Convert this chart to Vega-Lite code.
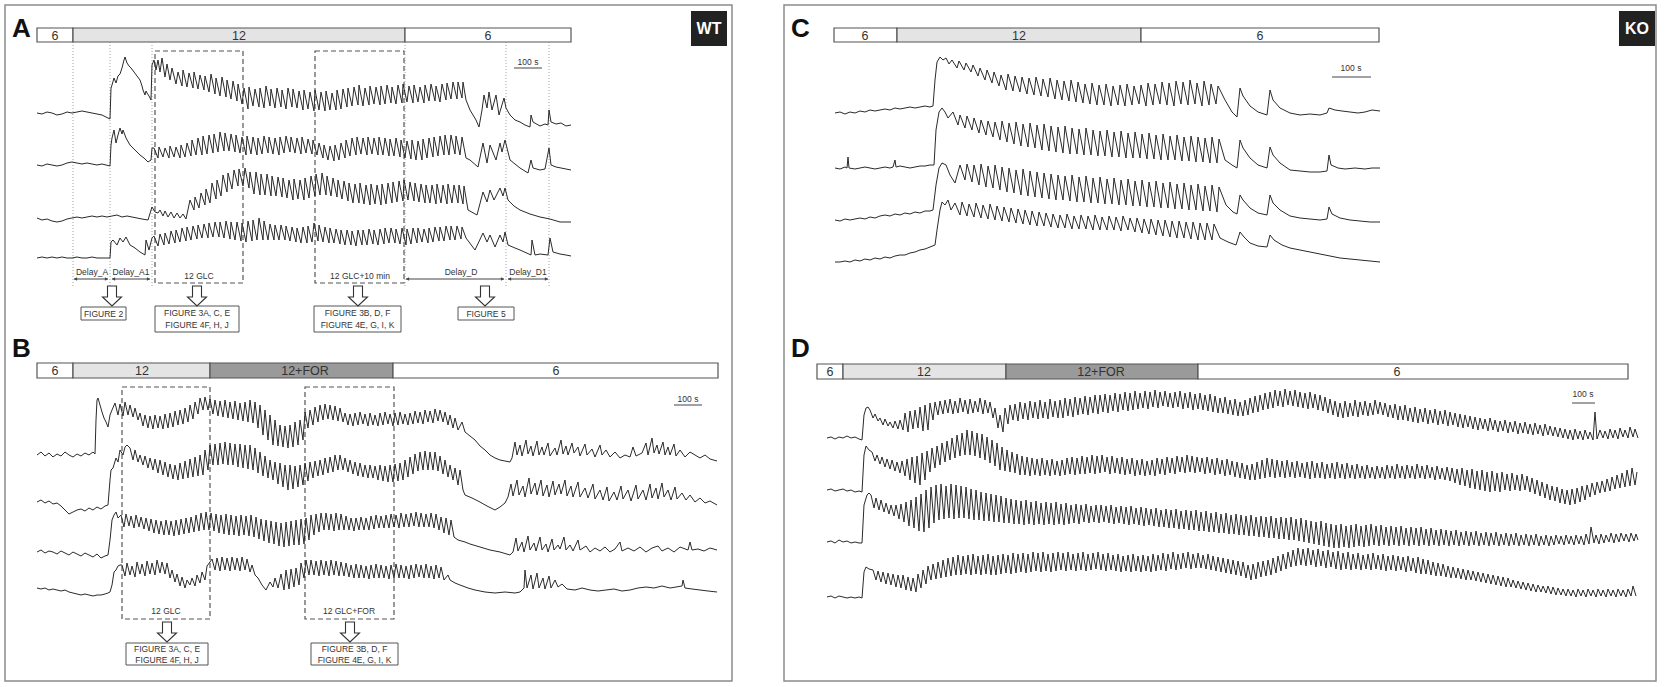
{
"$schema":"https://vega.github.io/schema/vega-lite/v6.json",
"width":1666,"height":687,
"autosize":{"type":"fit","contains":"padding"},
"padding":0,
"background":"white",
"config":{"view":{"stroke":null},"text":{"font":"Liberation Sans"}},
"encoding":{
"x":{"field":"x","type":"quantitative","scale":{"domain":[0,1666],"nice":false,"zero":false},"axis":null},
"y":{"field":"y","type":"quantitative","scale":{"domain":[0,687],"nice":false,"zero":false,"reverse":true},"axis":null}
},
"layer":[
{"data":{"values":[{"x":5,"x2":732,"y":5,"y2":681},{"x":784,"x2":1656,"y":5,"y2":681}]},
"mark":{"type":"rect","filled":false,"stroke":"#8c8c8c","strokeWidth":1.5},
"encoding":{"x2":{"field":"x2"},"y2":{"field":"y2"}}},
{"data":{"values":[
{"x":37,"x2":73,"y":28,"y2":42,"f":"#ffffff"},{"x":73,"x2":405,"y":28,"y2":42,"f":"#e4e4e4"},{"x":405,"x2":571,"y":28,"y2":42,"f":"#ffffff"},
{"x":37,"x2":73,"y":363,"y2":378,"f":"#ffffff"},{"x":73,"x2":210,"y":363,"y2":378,"f":"#e4e4e4"},{"x":210,"x2":393,"y":363,"y2":378,"f":"#9a9a9a"},{"x":393,"x2":718,"y":363,"y2":378,"f":"#ffffff"},
{"x":834,"x2":897,"y":28,"y2":42,"f":"#ffffff"},{"x":897,"x2":1141,"y":28,"y2":42,"f":"#e4e4e4"},{"x":1141,"x2":1379,"y":28,"y2":42,"f":"#ffffff"},
{"x":817,"x2":843,"y":364,"y2":379,"f":"#ffffff"},{"x":843,"x2":1006,"y":364,"y2":379,"f":"#e4e4e4"},{"x":1006,"x2":1198,"y":364,"y2":379,"f":"#9a9a9a"},{"x":1198,"x2":1628,"y":364,"y2":379,"f":"#ffffff"}]},
"mark":{"type":"rect","stroke":"#555555","strokeWidth":1.2},
"encoding":{"x2":{"field":"x2"},"y2":{"field":"y2"},"fill":{"field":"f","type":"nominal","scale":null}}},
{"data":{"values":[{"x":691,"x2":727,"y":11,"y2":46},{"x":1619,"x2":1655,"y":11,"y2":46}]},
"mark":{"type":"rect","fill":"#222222"},
"encoding":{"x2":{"field":"x2"},"y2":{"field":"y2"}}},
{"data":{"values":[{"x":155,"x2":243,"y":51,"y2":283},{"x":315,"x2":404,"y":51,"y2":283},{"x":122,"x2":210,"y":387,"y2":619},{"x":305,"x2":394,"y":387,"y2":619}]},
"mark":{"type":"rect","filled":false,"stroke":"#555555","strokeWidth":1.2,"strokeDash":[5,3]},
"encoding":{"x2":{"field":"x2"},"y2":{"field":"y2"}}},
{"data":{"values":[{"x":73,"y":42,"y2":286},{"x":110,"y":42,"y2":286},{"x":152,"y":42,"y2":286},{"x":405,"y":42,"y2":286},{"x":506,"y":42,"y2":286},{"x":549,"y":42,"y2":286}]},
"mark":{"type":"rule","stroke":"#8a8a8a","strokeWidth":0.8,"strokeDash":[1,2]},
"encoding":{"y2":{"field":"y2"}}},
{"data":{"values":[{"x":74,"x2":108,"y":279},{"x":112,"x2":150,"y":279},{"x":406,"x2":504,"y":279},{"x":508,"x2":548,"y":279},{"x":514,"x2":542,"y":68},{"x":674,"x2":702,"y":405},{"x":1332,"x2":1371,"y":77},{"x":1572,"x2":1595,"y":403}]},
"mark":{"type":"rule","stroke":"#444444","strokeWidth":1},
"encoding":{"x2":{"field":"x2"}}},
{"data":{"values":[{"x":75.5,"y":279,"sh":"triangle-left"},{"x":106.5,"y":279,"sh":"triangle-right"},{"x":113.5,"y":279,"sh":"triangle-left"},{"x":148.5,"y":279,"sh":"triangle-right"},{"x":407.5,"y":279,"sh":"triangle-left"},{"x":502.5,"y":279,"sh":"triangle-right"},{"x":509.5,"y":279,"sh":"triangle-left"},{"x":546.5,"y":279,"sh":"triangle-right"}]},
"mark":{"type":"point","filled":true,"size":14,"color":"#444444","opacity":1},
"encoding":{"shape":{"field":"sh","type":"nominal","scale":null}}},
{"data":{"values":"s,x,y\nA1,37,113\nA1,42,114\nA1,47,112\nA1,52,113\nA1,57,115\nA1,62,114\nA1,67,112\nA1,72,113\nA1,77,112\nA1,82,111\nA1,87,112\nA1,92,113\nA1,97,114\nA1,102,115\nA1,106,117\nA1,110,119\nA1,111,88\nA1,112,85\nA1,114,78\nA1,116,83\nA1,118,76\nA1,120,74\nA1,122,68\nA1,124,60\nA1,125,57\nA1,127,63\nA1,129,66\nA1,131,68\nA1,134,72\nA1,137,76\nA1,140,80\nA1,142,86\nA1,143,90\nA1,145,95\nA1,146,91\nA1,147,93\nA1,149,96\nA1,151,100\nA1,152,65\nA1,154,60\nA1,156,70\nA1,158,60\nA1,160,72\nA1,162,58\nA1,165,77\nA1,167,64\nA1,170,80\nA1,172,68\nA1,176,84\nA1,178,72\nA1,182,86\nA1,183,70\nA1,187,87\nA1,189,73\nA1,193,88\nA1,194,72\nA1,198,89\nA1,200,75\nA1,204,90\nA1,205,76\nA1,209,92\nA1,211,74\nA1,215,94\nA1,216,78\nA1,220,96\nA1,222,77\nA1,226,97\nA1,227,80\nA1,231,99\nA1,233,81\nA1,237,101\nA1,238,84\nA1,242,104\nA1,244,88\nA1,248,109\nA1,249,87\nA1,253,106\nA1,255,89\nA1,259,107\nA1,260,88\nA1,264,108\nA1,266,86\nA1,270,106\nA1,271,89\nA1,275,108\nA1,277,88\nA1,281,107\nA1,282,90\nA1,286,109\nA1,288,88\nA1,292,107\nA1,293,89\nA1,297,108\nA1,299,91\nA1,303,110\nA1,304,90\nA1,308,109\nA1,310,92\nA1,314,111\nA1,315,90\nA1,319,110\nA1,321,92\nA1,325,111\nA1,326,91\nA1,330,110\nA1,332,93\nA1,336,110\nA1,337,90\nA1,341,109\nA1,343,89\nA1,347,107\nA1,348,88\nA1,352,106\nA1,354,87\nA1,358,105\nA1,359,85\nA1,363,106\nA1,365,88\nA1,369,105\nA1,370,86\nA1,374,104\nA1,376,87\nA1,380,105\nA1,381,86\nA1,385,104\nA1,387,85\nA1,391,103\nA1,392,87\nA1,396,104\nA1,398,85\nA1,402,103\nA1,403,84\nA1,407,102\nA1,409,86\nA1,413,103\nA1,414,85\nA1,418,102\nA1,420,87\nA1,424,103\nA1,425,85\nA1,429,101\nA1,431,84\nA1,435,101\nA1,436,86\nA1,440,102\nA1,442,84\nA1,446,100\nA1,447,83\nA1,451,99\nA1,453,82\nA1,457,99\nA1,458,82\nA1,462,98\nA1,463,82\nA1,466,100\nA1,470,110\nA1,476,120\nA1,479,127\nA1,482,110\nA1,484,95\nA1,487,108\nA1,489,92\nA1,492,110\nA1,496,95\nA1,499,115\nA1,504,98\nA1,506,108\nA1,510,115\nA1,515,120\nA1,520,122\nA1,525,125\nA1,530,127\nA1,531,115\nA1,533,122\nA1,540,126\nA1,545,124\nA1,548,125\nA1,549,110\nA1,551,122\nA1,556,124\nA1,561,123\nA1,566,126\nA1,571,125\nA2,37,165\nA2,42,166\nA2,47,164\nA2,52,165\nA2,57,166\nA2,62,165\nA2,67,163\nA2,72,162\nA2,77,163\nA2,82,164\nA2,87,163\nA2,92,164\nA2,97,165\nA2,102,164\nA2,106,165\nA2,110,166\nA2,111,145\nA2,112,138\nA2,114,130\nA2,116,143\nA2,118,135\nA2,120,128\nA2,122,134\nA2,123,130\nA2,126,138\nA2,130,145\nA2,135,150\nA2,140,155\nA2,144,158\nA2,148,162\nA2,151,160\nA2,152,148\nA2,154,148\nA2,158,158\nA2,159,147\nA2,163,157\nA2,165,148\nA2,169,158\nA2,170,146\nA2,174,157\nA2,176,147\nA2,180,158\nA2,181,145\nA2,185,157\nA2,187,143\nA2,191,156\nA2,192,140\nA2,196,155\nA2,198,138\nA2,202,155\nA2,203,136\nA2,207,154\nA2,209,135\nA2,213,153\nA2,214,134\nA2,218,152\nA2,220,132\nA2,224,151\nA2,225,133\nA2,229,151\nA2,231,134\nA2,235,152\nA2,236,135\nA2,240,153\nA2,242,137\nA2,246,155\nA2,247,136\nA2,251,154\nA2,253,137\nA2,257,155\nA2,258,138\nA2,262,154\nA2,264,136\nA2,268,153\nA2,269,137\nA2,273,154\nA2,275,138\nA2,279,155\nA2,280,137\nA2,284,153\nA2,286,136\nA2,290,152\nA2,291,137\nA2,295,153\nA2,297,138\nA2,301,154\nA2,302,137\nA2,306,153\nA2,308,139\nA2,312,154\nA2,313,140\nA2,317,155\nA2,319,143\nA2,323,158\nA2,324,145\nA2,328,160\nA2,330,146\nA2,334,161\nA2,335,145\nA2,339,160\nA2,341,143\nA2,345,158\nA2,346,140\nA2,350,156\nA2,352,138\nA2,356,155\nA2,357,137\nA2,361,154\nA2,363,138\nA2,367,155\nA2,368,137\nA2,372,154\nA2,374,138\nA2,378,155\nA2,379,137\nA2,383,155\nA2,385,138\nA2,389,156\nA2,390,139\nA2,394,156\nA2,396,138\nA2,400,157\nA2,401,140\nA2,405,158\nA2,407,141\nA2,411,159\nA2,412,140\nA2,416,160\nA2,418,141\nA2,422,160\nA2,423,139\nA2,427,158\nA2,429,138\nA2,433,157\nA2,434,137\nA2,438,156\nA2,440,136\nA2,444,155\nA2,445,135\nA2,449,155\nA2,451,135\nA2,455,154\nA2,456,136\nA2,460,155\nA2,462,137\nA2,466,158\nA2,470,160\nA2,478,167\nA2,483,143\nA2,487,163\nA2,490,145\nA2,496,160\nA2,500,143\nA2,502,152\nA2,505,140\nA2,510,160\nA2,515,164\nA2,520,168\nA2,528,173\nA2,531,160\nA2,533,168\nA2,540,170\nA2,545,169\nA2,549,148\nA2,551,165\nA2,556,167\nA2,561,168\nA2,566,169\nA2,571,170\nA3,37,218\nA3,42,220\nA3,47,219\nA3,52,221\nA3,57,222\nA3,62,221\nA3,67,219\nA3,72,218\nA3,77,217\nA3,82,218\nA3,87,217\nA3,92,216\nA3,97,217\nA3,102,216\nA3,107,217\nA3,112,216\nA3,117,215\nA3,122,217\nA3,127,216\nA3,132,217\nA3,137,218\nA3,142,219\nA3,148,220\nA3,152,207\nA3,155,212\nA3,158,213\nA3,160,210\nA3,163,216\nA3,165,211\nA3,168,217\nA3,171,212\nA3,174,218\nA3,177,213\nA3,180,218\nA3,183,214\nA3,186,219\nA3,190,200\nA3,194,210\nA3,195,197\nA3,199,208\nA3,201,193\nA3,205,205\nA3,206,189\nA3,210,203\nA3,212,183\nA3,216,199\nA3,217,180\nA3,221,196\nA3,223,175\nA3,227,192\nA3,228,173\nA3,232,189\nA3,234,170\nA3,238,186\nA3,239,169\nA3,243,186\nA3,245,168\nA3,249,188\nA3,250,172\nA3,254,194\nA3,256,172\nA3,260,195\nA3,261,174\nA3,265,195\nA3,267,174\nA3,271,196\nA3,272,176\nA3,276,196\nA3,278,177\nA3,282,197\nA3,283,178\nA3,287,198\nA3,289,180\nA3,293,200\nA3,294,179\nA3,298,199\nA3,300,180\nA3,304,200\nA3,305,178\nA3,309,198\nA3,311,176\nA3,315,196\nA3,316,174\nA3,320,195\nA3,322,173\nA3,326,195\nA3,327,176\nA3,331,196\nA3,333,178\nA3,337,197\nA3,338,180\nA3,342,199\nA3,344,181\nA3,348,201\nA3,349,183\nA3,353,203\nA3,355,184\nA3,359,203\nA3,360,183\nA3,364,204\nA3,366,185\nA3,370,205\nA3,371,184\nA3,375,204\nA3,377,185\nA3,381,205\nA3,382,184\nA3,386,204\nA3,388,183\nA3,392,203\nA3,393,182\nA3,397,202\nA3,399,181\nA3,403,201\nA3,404,180\nA3,408,200\nA3,410,182\nA3,414,201\nA3,415,183\nA3,419,202\nA3,421,184\nA3,425,203\nA3,426,185\nA3,430,203\nA3,432,185\nA3,436,204\nA3,437,184\nA3,441,203\nA3,443,185\nA3,447,204\nA3,448,184\nA3,452,203\nA3,454,185\nA3,458,203\nA3,459,185\nA3,463,204\nA3,464,186\nA3,468,210\nA3,477,215\nA3,483,192\nA3,487,202\nA3,490,190\nA3,494,200\nA3,500,188\nA3,503,196\nA3,505,188\nA3,508,200\nA3,514,206\nA3,520,210\nA3,530,214\nA3,540,217\nA3,550,219\nA3,560,222\nA3,571,222\nA4,37,258\nA4,42,257\nA4,47,258\nA4,52,257\nA4,57,258\nA4,62,257\nA4,67,258\nA4,72,258\nA4,77,257\nA4,82,258\nA4,87,258\nA4,92,257\nA4,97,258\nA4,102,258\nA4,106,258\nA4,110,258\nA4,111,242\nA4,113,240\nA4,117,245\nA4,120,238\nA4,123,242\nA4,126,237\nA4,130,245\nA4,135,248\nA4,140,252\nA4,145,255\nA4,146,240\nA4,149,250\nA4,152,238\nA4,154,236\nA4,158,246\nA4,160,234\nA4,164,245\nA4,165,233\nA4,169,244\nA4,171,231\nA4,175,243\nA4,176,230\nA4,180,242\nA4,182,228\nA4,186,241\nA4,187,227\nA4,191,240\nA4,193,226\nA4,197,239\nA4,198,225\nA4,202,238\nA4,204,224\nA4,208,238\nA4,209,223\nA4,213,237\nA4,215,222\nA4,219,237\nA4,220,222\nA4,224,238\nA4,226,221\nA4,230,239\nA4,231,222\nA4,235,240\nA4,237,222\nA4,241,241\nA4,242,223\nA4,246,242\nA4,248,221\nA4,252,241\nA4,253,220\nA4,257,240\nA4,259,218\nA4,263,240\nA4,264,221\nA4,268,240\nA4,270,224\nA4,274,240\nA4,275,225\nA4,279,240\nA4,281,225\nA4,285,240\nA4,286,226\nA4,290,241\nA4,292,227\nA4,296,242\nA4,297,228\nA4,301,243\nA4,303,227\nA4,307,243\nA4,308,226\nA4,312,242\nA4,314,223\nA4,318,241\nA4,319,225\nA4,323,242\nA4,325,227\nA4,329,243\nA4,330,228\nA4,334,243\nA4,336,229\nA4,340,244\nA4,341,230\nA4,345,245\nA4,347,230\nA4,351,245\nA4,352,231\nA4,356,246\nA4,358,230\nA4,362,245\nA4,363,230\nA4,367,245\nA4,369,229\nA4,373,244\nA4,374,230\nA4,378,245\nA4,380,229\nA4,384,244\nA4,385,228\nA4,389,243\nA4,391,228\nA4,395,243\nA4,396,229\nA4,400,244\nA4,402,228\nA4,406,245\nA4,407,229\nA4,411,244\nA4,413,228\nA4,417,243\nA4,418,228\nA4,422,242\nA4,424,229\nA4,428,243\nA4,429,228\nA4,433,242\nA4,435,227\nA4,439,241\nA4,440,227\nA4,444,241\nA4,446,226\nA4,450,240\nA4,451,226\nA4,455,240\nA4,457,226\nA4,461,239\nA4,462,227\nA4,466,238\nA4,475,250\nA4,483,233\nA4,487,242\nA4,490,235\nA4,495,247\nA4,500,235\nA4,503,242\nA4,505,232\nA4,508,245\nA4,515,248\nA4,520,250\nA4,531,255\nA4,532,240\nA4,535,255\nA4,540,254\nA4,548,255\nA4,550,238\nA4,553,252\nA4,560,254\nA4,566,255\nA4,571,256\nB1,37,455\nB1,41,452\nB1,45,456\nB1,49,453\nB1,53,457\nB1,57,454\nB1,61,456\nB1,65,452\nB1,69,455\nB1,73,457\nB1,77,454\nB1,81,456\nB1,85,453\nB1,89,455\nB1,93,452\nB1,95,454\nB1,96,420\nB1,97,400\nB1,98,398\nB1,100,405\nB1,102,412\nB1,104,418\nB1,106,422\nB1,108,427\nB1,110,415\nB1,112,410\nB1,115,403\nB1,118,415\nB1,120,404\nB1,123,416\nB1,125,402\nB1,128,415\nB1,130,405\nB1,133,417\nB1,135,408\nB1,138,420\nB1,140,413\nB1,143,426\nB1,145,415\nB1,148,428\nB1,150,416\nB1,153,429\nB1,155,415\nB1,158,428\nB1,160,416\nB1,163,429\nB1,165,414\nB1,168,428\nB1,170,413\nB1,173,427\nB1,175,411\nB1,178,425\nB1,180,410\nB1,183,424\nB1,185,408\nB1,188,422\nB1,190,405\nB1,193,419\nB1,195,402\nB1,198,414\nB1,200,398\nB1,203,410\nB1,205,397\nB1,208,410\nB1,210,399\nB1,213,414\nB1,215,400\nB1,218,416\nB1,220,401\nB1,223,417\nB1,225,400\nB1,228,418\nB1,230,402\nB1,233,419\nB1,235,401\nB1,238,420\nB1,240,403\nB1,243,421\nB1,245,402\nB1,248,422\nB1,250,400\nB1,253,423\nB1,255,402\nB1,258,428\nB1,260,405\nB1,263,435\nB1,265,410\nB1,268,440\nB1,270,415\nB1,273,445\nB1,275,420\nB1,278,446\nB1,280,425\nB1,283,447\nB1,285,426\nB1,288,448\nB1,290,425\nB1,293,447\nB1,295,422\nB1,298,445\nB1,300,420\nB1,303,440\nB1,305,412\nB1,308,428\nB1,310,410\nB1,313,425\nB1,315,407\nB1,318,422\nB1,320,405\nB1,323,420\nB1,325,404\nB1,328,419\nB1,330,405\nB1,333,420\nB1,335,406\nB1,338,421\nB1,340,408\nB1,343,422\nB1,345,413\nB1,348,425\nB1,350,414\nB1,353,426\nB1,355,413\nB1,358,425\nB1,360,412\nB1,363,424\nB1,365,414\nB1,368,426\nB1,370,413\nB1,373,425\nB1,375,415\nB1,378,426\nB1,380,413\nB1,383,425\nB1,385,412\nB1,388,424\nB1,390,414\nB1,393,426\nB1,395,413\nB1,398,425\nB1,400,412\nB1,403,424\nB1,405,414\nB1,408,425\nB1,410,413\nB1,413,424\nB1,415,411\nB1,418,423\nB1,420,412\nB1,423,424\nB1,425,410\nB1,428,422\nB1,430,411\nB1,433,423\nB1,435,409\nB1,438,421\nB1,440,410\nB1,443,422\nB1,445,412\nB1,448,425\nB1,450,415\nB1,453,428\nB1,455,418\nB1,458,430\nB1,462,422\nB1,465,432\nB1,470,436\nB1,475,440\nB1,480,446\nB1,485,450\nB1,490,455\nB1,495,458\nB1,500,460\nB1,505,461\nB1,510,462\nB1,512,458\nB1,515,442\nB1,517,455\nB1,520,445\nB1,522,456\nB1,526,440\nB1,528,454\nB1,531,446\nB1,533,456\nB1,537,441\nB1,539,455\nB1,542,447\nB1,544,455\nB1,548,443\nB1,550,456\nB1,555,448\nB1,557,455\nB1,561,440\nB1,563,454\nB1,566,446\nB1,568,455\nB1,572,443\nB1,574,453\nB1,578,447\nB1,580,456\nB1,585,444\nB1,587,455\nB1,592,449\nB1,595,457\nB1,600,445\nB1,602,455\nB1,606,450\nB1,610,457\nB1,615,452\nB1,620,458\nB1,625,455\nB1,630,457\nB1,633,447\nB1,636,456\nB1,642,453\nB1,646,443\nB1,648,455\nB1,652,438\nB1,654,453\nB1,657,445\nB1,659,454\nB1,663,442\nB1,665,455\nB1,668,447\nB1,670,455\nB1,674,444\nB1,676,456\nB1,680,450\nB1,685,457\nB1,690,452\nB1,695,455\nB1,700,458\nB1,705,455\nB1,710,459\nB1,717,461\nB2,37,502\nB2,41,500\nB2,45,503\nB2,49,501\nB2,53,504\nB2,57,503\nB2,61,506\nB2,65,510\nB2,69,514\nB2,73,512\nB2,77,510\nB2,81,509\nB2,85,511\nB2,89,508\nB2,93,510\nB2,97,507\nB2,101,509\nB2,105,506\nB2,108,505\nB2,110,480\nB2,111,470\nB2,113,468\nB2,116,458\nB2,118,462\nB2,120,450\nB2,123,455\nB2,125,447\nB2,127,445\nB2,130,448\nB2,133,460\nB2,135,450\nB2,138,462\nB2,140,455\nB2,143,465\nB2,145,456\nB2,148,468\nB2,150,458\nB2,153,470\nB2,155,459\nB2,158,473\nB2,160,460\nB2,163,475\nB2,165,462\nB2,168,477\nB2,170,464\nB2,173,479\nB2,175,465\nB2,178,480\nB2,180,463\nB2,183,479\nB2,185,461\nB2,188,478\nB2,190,459\nB2,193,477\nB2,195,457\nB2,198,476\nB2,200,455\nB2,203,475\nB2,205,450\nB2,208,470\nB2,210,445\nB2,213,465\nB2,215,444\nB2,218,465\nB2,220,443\nB2,223,464\nB2,225,442\nB2,228,465\nB2,230,443\nB2,233,465\nB2,235,444\nB2,238,467\nB2,240,444\nB2,243,468\nB2,245,445\nB2,248,469\nB2,250,445\nB2,253,470\nB2,255,448\nB2,258,473\nB2,260,452\nB2,263,476\nB2,265,456\nB2,268,478\nB2,270,460\nB2,273,480\nB2,275,462\nB2,278,484\nB2,280,463\nB2,283,487\nB2,285,465\nB2,288,490\nB2,290,465\nB2,293,489\nB2,295,466\nB2,298,487\nB2,300,465\nB2,303,485\nB2,305,463\nB2,308,481\nB2,310,462\nB2,313,478\nB2,315,461\nB2,318,476\nB2,320,460\nB2,323,475\nB2,325,458\nB2,328,473\nB2,330,457\nB2,333,472\nB2,335,455\nB2,338,470\nB2,340,455\nB2,343,470\nB2,345,458\nB2,348,472\nB2,350,460\nB2,353,474\nB2,355,462\nB2,358,476\nB2,360,463\nB2,363,477\nB2,365,465\nB2,368,478\nB2,370,465\nB2,373,478\nB2,375,466\nB2,378,480\nB2,380,465\nB2,383,481\nB2,385,466\nB2,388,482\nB2,390,465\nB2,393,482\nB2,395,464\nB2,398,481\nB2,400,463\nB2,403,480\nB2,405,460\nB2,408,477\nB2,410,457\nB2,413,474\nB2,415,454\nB2,418,471\nB2,420,452\nB2,423,470\nB2,425,451\nB2,428,470\nB2,430,452\nB2,433,470\nB2,435,452\nB2,438,471\nB2,440,456\nB2,443,474\nB2,445,460\nB2,448,477\nB2,450,465\nB2,453,480\nB2,455,468\nB2,458,485\nB2,460,470\nB2,463,490\nB2,465,495\nB2,472,498\nB2,480,502\nB2,487,506\nB2,495,510\nB2,500,507\nB2,505,503\nB2,508,497\nB2,511,484\nB2,513,496\nB2,517,480\nB2,519,495\nB2,523,486\nB2,525,497\nB2,529,478\nB2,531,494\nB2,535,483\nB2,537,495\nB2,541,480\nB2,543,496\nB2,547,485\nB2,549,497\nB2,553,481\nB2,555,495\nB2,559,484\nB2,561,494\nB2,565,480\nB2,567,496\nB2,571,486\nB2,573,497\nB2,578,482\nB2,580,497\nB2,585,488\nB2,588,498\nB2,593,484\nB2,595,499\nB2,600,490\nB2,603,500\nB2,607,487\nB2,609,501\nB2,614,492\nB2,617,500\nB2,621,486\nB2,623,499\nB2,628,490\nB2,631,501\nB2,636,485\nB2,638,499\nB2,643,490\nB2,646,500\nB2,650,484\nB2,652,498\nB2,656,488\nB2,658,499\nB2,662,483\nB2,664,497\nB2,668,490\nB2,671,500\nB2,675,487\nB2,677,499\nB2,682,493\nB2,686,500\nB2,690,495\nB2,695,502\nB2,700,498\nB2,705,503\nB2,710,501\nB2,717,505\nB3,37,552\nB3,41,550\nB3,45,553\nB3,49,551\nB3,53,552\nB3,57,554\nB3,61,551\nB3,65,553\nB3,69,555\nB3,73,552\nB3,77,554\nB3,81,556\nB3,85,553\nB3,89,555\nB3,93,557\nB3,97,554\nB3,101,558\nB3,105,556\nB3,108,555\nB3,110,540\nB3,112,520\nB3,114,515\nB3,116,512\nB3,118,518\nB3,121,515\nB3,124,527\nB3,126,514\nB3,129,526\nB3,131,516\nB3,134,528\nB3,136,515\nB3,139,527\nB3,141,517\nB3,144,529\nB3,146,518\nB3,149,531\nB3,151,519\nB3,154,533\nB3,156,520\nB3,159,534\nB3,161,521\nB3,164,535\nB3,166,520\nB3,169,535\nB3,171,521\nB3,174,536\nB3,176,520\nB3,179,535\nB3,181,519\nB3,184,534\nB3,186,518\nB3,189,533\nB3,191,517\nB3,194,532\nB3,196,515\nB3,199,531\nB3,201,513\nB3,204,530\nB3,206,512\nB3,209,530\nB3,211,513\nB3,214,531\nB3,216,514\nB3,219,533\nB3,221,515\nB3,224,534\nB3,226,514\nB3,229,535\nB3,231,515\nB3,234,535\nB3,236,516\nB3,239,536\nB3,241,515\nB3,244,535\nB3,246,516\nB3,249,536\nB3,251,515\nB3,254,537\nB3,256,517\nB3,259,539\nB3,261,519\nB3,264,541\nB3,266,520\nB3,269,543\nB3,271,521\nB3,274,544\nB3,276,522\nB3,279,546\nB3,281,523\nB3,284,547\nB3,286,522\nB3,289,546\nB3,291,521\nB3,294,545\nB3,296,520\nB3,299,545\nB3,301,519\nB3,304,544\nB3,306,518\nB3,309,540\nB3,311,515\nB3,314,535\nB3,316,514\nB3,319,532\nB3,321,513\nB3,324,530\nB3,326,513\nB3,329,530\nB3,331,514\nB3,334,531\nB3,336,513\nB3,339,530\nB3,341,514\nB3,344,530\nB3,346,516\nB3,349,530\nB3,351,518\nB3,354,531\nB3,356,518\nB3,359,530\nB3,361,517\nB3,364,530\nB3,366,518\nB3,369,530\nB3,371,516\nB3,374,529\nB3,376,515\nB3,379,528\nB3,381,516\nB3,384,528\nB3,386,515\nB3,389,528\nB3,391,514\nB3,394,527\nB3,396,515\nB3,399,528\nB3,401,513\nB3,404,527\nB3,406,514\nB3,409,527\nB3,411,513\nB3,414,526\nB3,416,512\nB3,419,527\nB3,421,513\nB3,424,527\nB3,426,514\nB3,429,527\nB3,431,513\nB3,434,528\nB3,436,514\nB3,439,530\nB3,441,517\nB3,444,533\nB3,446,518\nB3,449,535\nB3,451,520\nB3,454,537\nB3,458,540\nB3,465,542\nB3,470,544\nB3,480,547\nB3,490,550\nB3,500,552\nB3,510,555\nB3,513,552\nB3,516,538\nB3,518,551\nB3,522,542\nB3,524,552\nB3,528,536\nB3,530,550\nB3,534,543\nB3,536,551\nB3,540,537\nB3,542,550\nB3,546,544\nB3,548,552\nB3,552,539\nB3,554,550\nB3,558,545\nB3,560,549\nB3,564,537\nB3,566,550\nB3,570,545\nB3,573,551\nB3,578,540\nB3,580,550\nB3,586,546\nB3,590,552\nB3,595,548\nB3,600,551\nB3,605,547\nB3,610,552\nB3,615,549\nB3,620,542\nB3,622,551\nB3,628,548\nB3,634,551\nB3,640,547\nB3,646,552\nB3,652,548\nB3,658,546\nB3,662,551\nB3,668,548\nB3,674,552\nB3,680,547\nB3,688,550\nB3,690,542\nB3,692,550\nB3,698,549\nB3,704,551\nB3,710,548\nB3,717,550\nB4,37,588\nB4,41,589\nB4,45,588\nB4,49,590\nB4,53,589\nB4,57,590\nB4,61,591\nB4,65,590\nB4,69,592\nB4,73,593\nB4,77,594\nB4,81,595\nB4,85,594\nB4,89,595\nB4,93,596\nB4,97,595\nB4,101,595\nB4,105,594\nB4,108,593\nB4,110,592\nB4,112,585\nB4,114,572\nB4,116,570\nB4,118,566\nB4,120,565\nB4,122,565\nB4,125,576\nB4,127,563\nB4,130,575\nB4,132,566\nB4,135,577\nB4,137,562\nB4,140,574\nB4,142,564\nB4,145,576\nB4,147,561\nB4,150,574\nB4,152,563\nB4,155,575\nB4,157,560\nB4,160,573\nB4,162,562\nB4,165,574\nB4,167,563\nB4,170,578\nB4,172,570\nB4,175,582\nB4,177,574\nB4,180,586\nB4,182,577\nB4,185,588\nB4,187,580\nB4,190,585\nB4,192,578\nB4,195,586\nB4,197,575\nB4,200,583\nB4,202,572\nB4,205,580\nB4,207,566\nB4,210,562\nB4,212,559\nB4,215,570\nB4,217,558\nB4,220,571\nB4,222,557\nB4,225,570\nB4,227,558\nB4,230,571\nB4,232,557\nB4,235,570\nB4,237,558\nB4,240,571\nB4,242,557\nB4,245,570\nB4,247,559\nB4,250,572\nB4,252,565\nB4,255,575\nB4,258,578\nB4,262,585\nB4,266,590\nB4,270,582\nB4,273,587\nB4,275,578\nB4,278,588\nB4,281,574\nB4,284,590\nB4,286,570\nB4,289,589\nB4,291,569\nB4,294,587\nB4,296,568\nB4,299,585\nB4,301,563\nB4,304,578\nB4,306,560\nB4,309,575\nB4,311,560\nB4,314,575\nB4,316,561\nB4,319,576\nB4,321,560\nB4,324,575\nB4,326,561\nB4,329,576\nB4,331,560\nB4,334,575\nB4,336,561\nB4,339,576\nB4,341,562\nB4,344,576\nB4,346,563\nB4,349,577\nB4,351,565\nB4,354,578\nB4,356,564\nB4,359,578\nB4,361,565\nB4,364,578\nB4,366,566\nB4,369,579\nB4,371,565\nB4,374,578\nB4,376,564\nB4,379,578\nB4,381,565\nB4,384,578\nB4,386,566\nB4,389,579\nB4,391,565\nB4,394,578\nB4,396,564\nB4,399,578\nB4,401,565\nB4,404,578\nB4,406,566\nB4,409,579\nB4,411,565\nB4,414,578\nB4,416,564\nB4,419,577\nB4,421,565\nB4,424,578\nB4,426,564\nB4,429,578\nB4,431,566\nB4,434,579\nB4,436,565\nB4,439,578\nB4,441,567\nB4,444,580\nB4,448,575\nB4,450,580\nB4,455,583\nB4,460,585\nB4,468,588\nB4,475,590\nB4,485,592\nB4,495,593\nB4,505,592\nB4,515,593\nB4,520,592\nB4,524,588\nB4,525,570\nB4,527,588\nB4,531,575\nB4,533,589\nB4,537,573\nB4,539,588\nB4,543,578\nB4,545,589\nB4,549,576\nB4,551,588\nB4,555,580\nB4,558,587\nB4,562,584\nB4,567,589\nB4,575,590\nB4,582,588\nB4,590,590\nB4,598,591\nB4,606,590\nB4,614,589\nB4,622,591\nB4,630,590\nB4,638,588\nB4,646,587\nB4,654,588\nB4,662,586\nB4,670,588\nB4,676,587\nB4,682,586\nB4,683,580\nB4,685,588\nB4,692,589\nB4,700,590\nB4,708,591\nB4,717,592\nC1,835,113\nC1,840,112\nC1,845,114\nC1,850,112\nC1,855,113\nC1,860,111\nC1,865,112\nC1,870,110\nC1,875,111\nC1,880,110\nC1,885,109\nC1,890,110\nC1,895,108\nC1,900,109\nC1,905,108\nC1,910,107\nC1,915,108\nC1,920,107\nC1,925,106\nC1,930,107\nC1,933,106\nC1,935,80\nC1,937,62\nC1,940,57\nC1,943,60\nC1,946,58\nC1,949,64\nC1,952,60\nC1,957,68\nC1,959,61\nC1,964,70\nC1,966,63\nC1,971,72\nC1,973,65\nC1,978,76\nC1,980,68\nC1,985,80\nC1,987,70\nC1,992,83\nC1,994,72\nC1,999,86\nC1,1001,75\nC1,1006,90\nC1,1008,74\nC1,1013,91\nC1,1015,76\nC1,1020,92\nC1,1022,77\nC1,1027,94\nC1,1029,78\nC1,1034,95\nC1,1036,77\nC1,1041,96\nC1,1043,79\nC1,1048,97\nC1,1050,78\nC1,1055,99\nC1,1057,80\nC1,1062,100\nC1,1064,81\nC1,1069,101\nC1,1071,80\nC1,1076,102\nC1,1078,82\nC1,1083,103\nC1,1085,84\nC1,1090,104\nC1,1092,83\nC1,1097,105\nC1,1099,85\nC1,1104,105\nC1,1106,84\nC1,1111,106\nC1,1113,86\nC1,1118,105\nC1,1120,85\nC1,1125,106\nC1,1127,84\nC1,1132,105\nC1,1134,86\nC1,1139,104\nC1,1141,85\nC1,1146,106\nC1,1148,83\nC1,1153,105\nC1,1155,84\nC1,1160,104\nC1,1162,82\nC1,1167,105\nC1,1169,83\nC1,1174,106\nC1,1176,81\nC1,1181,104\nC1,1183,82\nC1,1188,105\nC1,1190,80\nC1,1195,104\nC1,1197,83\nC1,1202,106\nC1,1204,81\nC1,1209,105\nC1,1211,84\nC1,1216,104\nC1,1218,86\nC1,1225,100\nC1,1232,112\nC1,1237,117\nC1,1240,88\nC1,1243,96\nC1,1250,106\nC1,1258,112\nC1,1267,115\nC1,1270,90\nC1,1273,100\nC1,1280,108\nC1,1290,113\nC1,1300,115\nC1,1310,114\nC1,1320,115\nC1,1327,113\nC1,1329,108\nC1,1335,110\nC1,1342,111\nC1,1350,112\nC1,1358,113\nC1,1365,112\nC1,1372,110\nC1,1380,111\nC2,835,168\nC2,840,169\nC2,845,167\nC2,847,168\nC2,848,157\nC2,849,168\nC2,855,169\nC2,860,168\nC2,865,167\nC2,870,168\nC2,875,169\nC2,880,168\nC2,885,167\nC2,890,168\nC2,893,167\nC2,895,160\nC2,896,167\nC2,900,166\nC2,905,167\nC2,910,168\nC2,915,167\nC2,920,166\nC2,925,166\nC2,930,165\nC2,934,165\nC2,936,130\nC2,939,112\nC2,942,108\nC2,945,112\nC2,948,118\nC2,953,112\nC2,958,125\nC2,960,115\nC2,965,128\nC2,967,116\nC2,972,130\nC2,974,118\nC2,979,133\nC2,981,120\nC2,986,135\nC2,988,121\nC2,993,137\nC2,995,122\nC2,1000,140\nC2,1002,121\nC2,1007,142\nC2,1009,123\nC2,1014,144\nC2,1016,122\nC2,1021,146\nC2,1023,124\nC2,1028,147\nC2,1030,123\nC2,1035,148\nC2,1037,125\nC2,1042,150\nC2,1044,124\nC2,1049,151\nC2,1051,126\nC2,1056,152\nC2,1058,127\nC2,1063,153\nC2,1065,126\nC2,1070,154\nC2,1072,128\nC2,1077,154\nC2,1079,129\nC2,1084,155\nC2,1086,128\nC2,1091,155\nC2,1093,130\nC2,1098,156\nC2,1100,131\nC2,1105,156\nC2,1107,130\nC2,1112,157\nC2,1114,132\nC2,1119,157\nC2,1121,131\nC2,1126,158\nC2,1128,133\nC2,1133,158\nC2,1135,132\nC2,1140,158\nC2,1142,134\nC2,1147,159\nC2,1149,133\nC2,1154,159\nC2,1156,135\nC2,1161,160\nC2,1163,134\nC2,1168,160\nC2,1170,136\nC2,1175,160\nC2,1177,135\nC2,1182,161\nC2,1184,137\nC2,1189,161\nC2,1191,136\nC2,1196,162\nC2,1198,137\nC2,1203,162\nC2,1205,138\nC2,1210,163\nC2,1212,137\nC2,1217,163\nC2,1219,139\nC2,1225,160\nC2,1232,165\nC2,1237,168\nC2,1240,140\nC2,1243,148\nC2,1250,158\nC2,1258,165\nC2,1267,168\nC2,1270,147\nC2,1273,155\nC2,1280,163\nC2,1290,170\nC2,1300,171\nC2,1310,172\nC2,1320,172\nC2,1327,171\nC2,1329,155\nC2,1331,165\nC2,1338,168\nC2,1345,169\nC2,1355,168\nC2,1365,169\nC2,1372,168\nC2,1380,168\nC3,835,220\nC3,840,221\nC3,845,219\nC3,850,220\nC3,855,219\nC3,860,218\nC3,865,219\nC3,870,217\nC3,875,218\nC3,880,216\nC3,885,215\nC3,890,216\nC3,895,214\nC3,900,215\nC3,905,213\nC3,910,214\nC3,915,212\nC3,920,213\nC3,925,211\nC3,930,211\nC3,933,210\nC3,936,185\nC3,939,168\nC3,942,163\nC3,946,165\nC3,950,175\nC3,955,183\nC3,960,165\nC3,965,180\nC3,967,164\nC3,972,182\nC3,974,165\nC3,979,185\nC3,981,164\nC3,986,187\nC3,988,166\nC3,993,188\nC3,995,165\nC3,1000,190\nC3,1002,167\nC3,1007,192\nC3,1009,168\nC3,1014,193\nC3,1016,170\nC3,1021,195\nC3,1023,169\nC3,1028,196\nC3,1030,171\nC3,1035,197\nC3,1037,172\nC3,1042,198\nC3,1044,173\nC3,1049,199\nC3,1051,174\nC3,1056,200\nC3,1058,175\nC3,1063,200\nC3,1065,176\nC3,1070,201\nC3,1072,175\nC3,1077,202\nC3,1079,177\nC3,1084,202\nC3,1086,176\nC3,1091,203\nC3,1093,178\nC3,1098,203\nC3,1100,177\nC3,1105,204\nC3,1107,179\nC3,1112,204\nC3,1114,178\nC3,1119,205\nC3,1121,180\nC3,1126,205\nC3,1128,179\nC3,1133,206\nC3,1135,181\nC3,1140,206\nC3,1142,180\nC3,1147,207\nC3,1149,182\nC3,1154,207\nC3,1156,181\nC3,1161,208\nC3,1163,183\nC3,1168,208\nC3,1170,182\nC3,1175,209\nC3,1177,184\nC3,1182,209\nC3,1184,183\nC3,1189,210\nC3,1191,185\nC3,1196,210\nC3,1198,184\nC3,1203,211\nC3,1205,186\nC3,1210,211\nC3,1212,185\nC3,1217,212\nC3,1219,187\nC3,1226,205\nC3,1233,212\nC3,1237,214\nC3,1240,195\nC3,1243,200\nC3,1250,208\nC3,1258,213\nC3,1267,215\nC3,1270,195\nC3,1273,203\nC3,1280,210\nC3,1290,216\nC3,1300,218\nC3,1310,219\nC3,1320,220\nC3,1327,219\nC3,1329,207\nC3,1332,214\nC3,1340,218\nC3,1350,220\nC3,1360,221\nC3,1370,222\nC3,1380,222\nC4,835,262\nC4,840,262\nC4,845,261\nC4,850,262\nC4,855,260\nC4,860,261\nC4,865,259\nC4,870,260\nC4,875,258\nC4,880,259\nC4,885,257\nC4,890,258\nC4,895,256\nC4,900,255\nC4,905,255\nC4,910,253\nC4,915,252\nC4,920,250\nC4,925,249\nC4,930,247\nC4,935,245\nC4,937,230\nC4,940,210\nC4,942,202\nC4,945,205\nC4,948,200\nC4,951,210\nC4,955,203\nC4,960,215\nC4,962,202\nC4,967,216\nC4,969,204\nC4,974,217\nC4,976,203\nC4,981,218\nC4,983,205\nC4,988,219\nC4,990,204\nC4,995,220\nC4,997,206\nC4,1002,221\nC4,1004,207\nC4,1009,222\nC4,1011,208\nC4,1016,223\nC4,1018,209\nC4,1023,224\nC4,1025,210\nC4,1030,225\nC4,1032,211\nC4,1037,226\nC4,1039,212\nC4,1044,226\nC4,1046,213\nC4,1051,227\nC4,1053,214\nC4,1058,228\nC4,1060,215\nC4,1065,228\nC4,1067,214\nC4,1072,229\nC4,1074,216\nC4,1079,229\nC4,1081,215\nC4,1086,229\nC4,1088,216\nC4,1093,230\nC4,1095,215\nC4,1100,230\nC4,1102,217\nC4,1107,230\nC4,1109,216\nC4,1114,230\nC4,1116,217\nC4,1121,231\nC4,1123,216\nC4,1128,230\nC4,1130,218\nC4,1135,232\nC4,1137,218\nC4,1142,233\nC4,1144,219\nC4,1149,234\nC4,1151,219\nC4,1156,235\nC4,1158,220\nC4,1163,236\nC4,1165,220\nC4,1170,237\nC4,1172,221\nC4,1177,238\nC4,1179,221\nC4,1184,238\nC4,1186,222\nC4,1191,239\nC4,1193,222\nC4,1198,240\nC4,1200,223\nC4,1205,240\nC4,1207,223\nC4,1212,240\nC4,1214,224\nC4,1220,238\nC4,1228,242\nC4,1236,245\nC4,1240,232\nC4,1244,237\nC4,1250,243\nC4,1258,246\nC4,1267,247\nC4,1270,235\nC4,1274,240\nC4,1282,245\nC4,1290,248\nC4,1300,250\nC4,1310,252\nC4,1320,254\nC4,1330,256\nC4,1340,258\nC4,1350,259\nC4,1360,260\nC4,1370,261\nC4,1380,262\nD1,827,438\nD1,831,437\nD1,835,439\nD1,839,437\nD1,843,438\nD1,847,436\nD1,851,438\nD1,855,437\nD1,859,439\nD1,862,440\nD1,864,415\nD1,866,408\nD1,868,407\nD1,870,410\nD1,873,418\nD1,875,414\nD1,878,421\nD1,880,418\nD1,883,425\nD1,885,419\nD1,888,426\nD1,890,422\nD1,893,428\nD1,895,421\nD1,898,429\nD1,900,420\nD1,903,430\nD1,905,413\nD1,908,432\nD1,910,411\nD1,913,429\nD1,915,410\nD1,918,428\nD1,920,407\nD1,923,431\nD1,925,405\nD1,928,430\nD1,930,403\nD1,933,420\nD1,935,402\nD1,938,415\nD1,940,401\nD1,943,414\nD1,945,400\nD1,948,413\nD1,950,399\nD1,953,414\nD1,955,401\nD1,958,413\nD1,960,398\nD1,963,412\nD1,965,400\nD1,968,414\nD1,970,399\nD1,973,413\nD1,975,401\nD1,978,412\nD1,980,398\nD1,983,414\nD1,985,400\nD1,988,413\nD1,990,402\nD1,993,418\nD1,995,408\nD1,998,428\nD1,1000,415\nD1,1003,432\nD1,1005,408\nD1,1008,424\nD1,1010,405\nD1,1013,420\nD1,1015,404\nD1,1018,421\nD1,1020,402\nD1,1023,419\nD1,1025,403\nD1,1028,420\nD1,1030,401\nD1,1033,418\nD1,1035,402\nD1,1038,419\nD1,1040,400\nD1,1043,418\nD1,1045,402\nD1,1048,419\nD1,1050,399\nD1,1053,417\nD1,1055,401\nD1,1058,418\nD1,1060,400\nD1,1063,418\nD1,1065,398\nD1,1068,416\nD1,1070,399\nD1,1073,417\nD1,1075,397\nD1,1078,415\nD1,1080,398\nD1,1083,414\nD1,1085,396\nD1,1088,415\nD1,1090,397\nD1,1093,413\nD1,1095,395\nD1,1098,414\nD1,1100,395\nD1,1103,412\nD1,1105,394\nD1,1108,413\nD1,1110,395\nD1,1113,411\nD1,1115,393\nD1,1118,412\nD1,1120,394\nD1,1123,410\nD1,1125,392\nD1,1128,411\nD1,1130,393\nD1,1133,410\nD1,1135,391\nD1,1138,409\nD1,1140,393\nD1,1143,408\nD1,1145,391\nD1,1148,409\nD1,1150,392\nD1,1153,407\nD1,1155,390\nD1,1158,408\nD1,1160,392\nD1,1163,406\nD1,1165,391\nD1,1168,407\nD1,1170,393\nD1,1173,408\nD1,1175,392\nD1,1178,407\nD1,1180,391\nD1,1183,409\nD1,1185,393\nD1,1188,408\nD1,1190,392\nD1,1193,410\nD1,1195,394\nD1,1198,409\nD1,1200,393\nD1,1203,410\nD1,1205,395\nD1,1208,411\nD1,1210,394\nD1,1213,412\nD1,1215,396\nD1,1218,413\nD1,1220,398\nD1,1223,413\nD1,1225,397\nD1,1228,414\nD1,1230,400\nD1,1233,415\nD1,1235,399\nD1,1238,416\nD1,1240,402\nD1,1243,416\nD1,1245,400\nD1,1248,415\nD1,1250,398\nD1,1253,413\nD1,1255,396\nD1,1258,412\nD1,1260,395\nD1,1263,410\nD1,1265,393\nD1,1268,409\nD1,1270,392\nD1,1273,408\nD1,1275,390\nD1,1278,406\nD1,1280,391\nD1,1283,407\nD1,1285,389\nD1,1288,405\nD1,1290,391\nD1,1293,406\nD1,1295,390\nD1,1298,407\nD1,1300,392\nD1,1303,408\nD1,1305,393\nD1,1308,409\nD1,1310,392\nD1,1313,408\nD1,1315,394\nD1,1318,410\nD1,1320,395\nD1,1323,411\nD1,1325,397\nD1,1328,413\nD1,1330,399\nD1,1333,415\nD1,1335,401\nD1,1338,417\nD1,1340,403\nD1,1343,418\nD1,1345,401\nD1,1348,417\nD1,1350,403\nD1,1353,416\nD1,1355,400\nD1,1358,417\nD1,1360,402\nD1,1363,415\nD1,1365,401\nD1,1368,416\nD1,1370,403\nD1,1373,415\nD1,1375,400\nD1,1378,414\nD1,1380,402\nD1,1383,415\nD1,1385,403\nD1,1388,417\nD1,1390,405\nD1,1393,418\nD1,1395,404\nD1,1398,420\nD1,1400,406\nD1,1403,420\nD1,1405,405\nD1,1408,421\nD1,1410,408\nD1,1413,422\nD1,1415,407\nD1,1418,423\nD1,1420,409\nD1,1423,422\nD1,1425,408\nD1,1428,424\nD1,1430,410\nD1,1433,423\nD1,1435,409\nD1,1438,425\nD1,1440,411\nD1,1443,424\nD1,1445,410\nD1,1448,426\nD1,1450,412\nD1,1453,425\nD1,1455,413\nD1,1458,427\nD1,1460,414\nD1,1463,428\nD1,1465,415\nD1,1468,427\nD1,1470,416\nD1,1473,429\nD1,1475,417\nD1,1478,430\nD1,1480,418\nD1,1483,429\nD1,1485,419\nD1,1488,431\nD1,1490,418\nD1,1493,430\nD1,1495,420\nD1,1498,432\nD1,1500,421\nD1,1503,431\nD1,1505,420\nD1,1508,433\nD1,1510,422\nD1,1513,432\nD1,1515,421\nD1,1518,434\nD1,1520,423\nD1,1523,433\nD1,1525,422\nD1,1528,434\nD1,1530,424\nD1,1533,435\nD1,1535,423\nD1,1538,434\nD1,1540,425\nD1,1543,436\nD1,1545,424\nD1,1548,435\nD1,1550,426\nD1,1553,436\nD1,1555,427\nD1,1558,437\nD1,1560,428\nD1,1563,438\nD1,1565,429\nD1,1568,439\nD1,1570,430\nD1,1573,440\nD1,1575,429\nD1,1578,439\nD1,1580,431\nD1,1583,440\nD1,1585,430\nD1,1588,439\nD1,1590,432\nD1,1593,440\nD1,1595,412\nD1,1597,439\nD1,1600,430\nD1,1603,438\nD1,1605,431\nD1,1608,439\nD1,1610,429\nD1,1613,438\nD1,1615,430\nD1,1618,439\nD1,1620,428\nD1,1623,437\nD1,1625,430\nD1,1628,438\nD1,1630,427\nD1,1633,437\nD1,1635,429\nD1,1638,438\nD2,827,490\nD2,831,489\nD2,835,491\nD2,839,490\nD2,843,489\nD2,847,491\nD2,851,490\nD2,855,492\nD2,859,491\nD2,862,492\nD2,864,455\nD2,866,446\nD2,869,450\nD2,872,452\nD2,875,461\nD2,877,455\nD2,880,464\nD2,882,457\nD2,885,467\nD2,887,459\nD2,890,469\nD2,892,460\nD2,895,471\nD2,897,462\nD2,900,473\nD2,902,461\nD2,905,476\nD2,907,459\nD2,910,480\nD2,912,457\nD2,915,483\nD2,917,456\nD2,920,485\nD2,922,453\nD2,925,480\nD2,927,451\nD2,930,472\nD2,932,448\nD2,935,468\nD2,937,446\nD2,940,465\nD2,942,443\nD2,945,462\nD2,947,441\nD2,950,460\nD2,952,438\nD2,955,458\nD2,957,435\nD2,960,456\nD2,962,433\nD2,965,455\nD2,967,430\nD2,970,455\nD2,972,431\nD2,975,456\nD2,977,433\nD2,980,458\nD2,982,434\nD2,985,460\nD2,987,437\nD2,990,463\nD2,992,440\nD2,995,466\nD2,997,443\nD2,1000,470\nD2,1002,447\nD2,1005,471\nD2,1007,450\nD2,1010,472\nD2,1012,452\nD2,1015,473\nD2,1017,454\nD2,1020,475\nD2,1022,456\nD2,1025,475\nD2,1027,457\nD2,1030,476\nD2,1032,458\nD2,1035,475\nD2,1037,459\nD2,1040,476\nD2,1042,458\nD2,1045,475\nD2,1047,460\nD2,1050,476\nD2,1052,459\nD2,1055,475\nD2,1057,461\nD2,1060,476\nD2,1062,460\nD2,1065,475\nD2,1067,458\nD2,1070,474\nD2,1072,457\nD2,1075,475\nD2,1077,458\nD2,1080,474\nD2,1082,456\nD2,1085,474\nD2,1087,457\nD2,1090,473\nD2,1092,455\nD2,1095,474\nD2,1097,456\nD2,1100,473\nD2,1102,455\nD2,1105,472\nD2,1107,457\nD2,1110,474\nD2,1112,456\nD2,1115,473\nD2,1117,458\nD2,1120,474\nD2,1122,457\nD2,1125,475\nD2,1127,459\nD2,1130,474\nD2,1132,458\nD2,1135,476\nD2,1137,460\nD2,1140,475\nD2,1142,459\nD2,1145,476\nD2,1147,461\nD2,1150,475\nD2,1152,460\nD2,1155,476\nD2,1157,458\nD2,1160,474\nD2,1162,459\nD2,1165,475\nD2,1167,457\nD2,1170,473\nD2,1172,458\nD2,1175,474\nD2,1177,456\nD2,1180,472\nD2,1182,457\nD2,1185,473\nD2,1187,455\nD2,1190,472\nD2,1192,456\nD2,1195,473\nD2,1197,457\nD2,1200,472\nD2,1202,458\nD2,1205,474\nD2,1207,457\nD2,1210,473\nD2,1212,459\nD2,1215,475\nD2,1217,458\nD2,1220,474\nD2,1222,460\nD2,1225,476\nD2,1227,459\nD2,1230,475\nD2,1232,461\nD2,1235,477\nD2,1237,462\nD2,1240,478\nD2,1242,463\nD2,1245,479\nD2,1247,465\nD2,1250,480\nD2,1252,464\nD2,1255,480\nD2,1257,462\nD2,1260,479\nD2,1262,460\nD2,1265,478\nD2,1267,458\nD2,1270,477\nD2,1272,459\nD2,1275,478\nD2,1277,460\nD2,1280,477\nD2,1282,461\nD2,1285,478\nD2,1287,460\nD2,1290,477\nD2,1292,462\nD2,1295,478\nD2,1297,461\nD2,1300,477\nD2,1302,463\nD2,1305,478\nD2,1307,462\nD2,1310,479\nD2,1312,461\nD2,1315,478\nD2,1317,463\nD2,1320,478\nD2,1322,462\nD2,1325,479\nD2,1327,464\nD2,1330,478\nD2,1332,463\nD2,1335,479\nD2,1337,462\nD2,1340,478\nD2,1342,464\nD2,1345,479\nD2,1347,463\nD2,1350,478\nD2,1352,465\nD2,1355,479\nD2,1357,464\nD2,1360,478\nD2,1362,466\nD2,1365,479\nD2,1367,465\nD2,1370,478\nD2,1372,467\nD2,1375,479\nD2,1377,466\nD2,1380,478\nD2,1382,467\nD2,1385,479\nD2,1387,465\nD2,1390,478\nD2,1392,466\nD2,1395,479\nD2,1397,464\nD2,1400,478\nD2,1402,466\nD2,1405,479\nD2,1407,465\nD2,1410,478\nD2,1412,466\nD2,1415,479\nD2,1417,464\nD2,1420,478\nD2,1422,466\nD2,1425,479\nD2,1427,465\nD2,1430,478\nD2,1432,467\nD2,1435,480\nD2,1437,466\nD2,1440,479\nD2,1442,468\nD2,1445,480\nD2,1447,467\nD2,1450,481\nD2,1452,468\nD2,1455,483\nD2,1457,469\nD2,1460,485\nD2,1462,468\nD2,1465,486\nD2,1467,470\nD2,1470,488\nD2,1472,469\nD2,1475,489\nD2,1477,471\nD2,1480,490\nD2,1482,470\nD2,1485,491\nD2,1487,472\nD2,1490,492\nD2,1492,471\nD2,1495,491\nD2,1497,473\nD2,1500,492\nD2,1502,472\nD2,1505,490\nD2,1507,474\nD2,1510,491\nD2,1512,473\nD2,1515,490\nD2,1517,475\nD2,1520,491\nD2,1522,474\nD2,1525,490\nD2,1527,476\nD2,1530,492\nD2,1532,478\nD2,1535,494\nD2,1537,480\nD2,1540,496\nD2,1542,482\nD2,1545,498\nD2,1547,484\nD2,1550,500\nD2,1552,486\nD2,1555,501\nD2,1557,487\nD2,1560,503\nD2,1562,489\nD2,1565,504\nD2,1567,490\nD2,1570,505\nD2,1572,489\nD2,1575,504\nD2,1577,488\nD2,1580,502\nD2,1582,486\nD2,1585,500\nD2,1587,485\nD2,1590,497\nD2,1592,483\nD2,1595,495\nD2,1597,482\nD2,1600,493\nD2,1602,481\nD2,1605,492\nD2,1607,479\nD2,1610,491\nD2,1612,477\nD2,1615,489\nD2,1617,475\nD2,1620,488\nD2,1622,473\nD2,1625,487\nD2,1627,470\nD2,1630,486\nD2,1632,468\nD2,1635,485\nD2,1637,472\nD3,827,542\nD3,831,541\nD3,835,543\nD3,839,540\nD3,843,542\nD3,847,541\nD3,851,543\nD3,855,542\nD3,859,543\nD3,862,543\nD3,864,505\nD3,867,495\nD3,869,493\nD3,871,495\nD3,874,508\nD3,876,498\nD3,879,510\nD3,881,500\nD3,884,512\nD3,886,503\nD3,889,514\nD3,891,505\nD3,894,516\nD3,896,505\nD3,899,519\nD3,901,504\nD3,904,522\nD3,906,502\nD3,909,526\nD3,911,500\nD3,914,528\nD3,916,497\nD3,919,531\nD3,921,494\nD3,924,532\nD3,926,490\nD3,929,528\nD3,931,487\nD3,934,523\nD3,936,485\nD3,939,520\nD3,941,484\nD3,944,519\nD3,946,486\nD3,949,518\nD3,951,484\nD3,954,519\nD3,956,485\nD3,959,518\nD3,961,486\nD3,964,518\nD3,966,487\nD3,969,519\nD3,971,489\nD3,974,520\nD3,976,490\nD3,979,520\nD3,981,492\nD3,984,521\nD3,986,493\nD3,989,521\nD3,991,494\nD3,994,522\nD3,996,495\nD3,999,522\nD3,1001,496\nD3,1004,523\nD3,1006,498\nD3,1009,523\nD3,1011,499\nD3,1014,524\nD3,1016,500\nD3,1019,524\nD3,1021,501\nD3,1024,525\nD3,1026,500\nD3,1029,524\nD3,1031,502\nD3,1034,525\nD3,1036,501\nD3,1039,524\nD3,1041,503\nD3,1044,525\nD3,1046,502\nD3,1049,524\nD3,1051,503\nD3,1054,525\nD3,1056,502\nD3,1059,524\nD3,1061,504\nD3,1064,525\nD3,1066,503\nD3,1069,524\nD3,1071,505\nD3,1074,523\nD3,1076,504\nD3,1079,524\nD3,1081,505\nD3,1084,522\nD3,1086,504\nD3,1089,523\nD3,1091,506\nD3,1094,522\nD3,1096,505\nD3,1099,523\nD3,1101,505\nD3,1104,522\nD3,1106,506\nD3,1109,523\nD3,1111,505\nD3,1114,524\nD3,1116,507\nD3,1119,523\nD3,1121,506\nD3,1124,524\nD3,1126,507\nD3,1129,525\nD3,1131,506\nD3,1134,524\nD3,1136,508\nD3,1139,525\nD3,1141,507\nD3,1144,526\nD3,1146,508\nD3,1149,525\nD3,1151,509\nD3,1154,526\nD3,1156,508\nD3,1159,527\nD3,1161,510\nD3,1164,527\nD3,1166,509\nD3,1169,528\nD3,1171,510\nD3,1174,528\nD3,1176,509\nD3,1179,529\nD3,1181,511\nD3,1184,529\nD3,1186,510\nD3,1189,530\nD3,1191,511\nD3,1194,530\nD3,1196,510\nD3,1199,531\nD3,1201,512\nD3,1204,531\nD3,1206,511\nD3,1209,532\nD3,1211,513\nD3,1214,532\nD3,1216,512\nD3,1219,533\nD3,1221,514\nD3,1224,533\nD3,1226,513\nD3,1229,534\nD3,1231,515\nD3,1234,534\nD3,1236,514\nD3,1239,535\nD3,1241,515\nD3,1244,535\nD3,1246,516\nD3,1249,536\nD3,1251,515\nD3,1254,536\nD3,1256,517\nD3,1259,537\nD3,1261,516\nD3,1264,537\nD3,1266,517\nD3,1269,538\nD3,1271,516\nD3,1274,538\nD3,1276,518\nD3,1279,539\nD3,1281,517\nD3,1284,539\nD3,1286,518\nD3,1289,540\nD3,1291,517\nD3,1294,540\nD3,1296,519\nD3,1299,541\nD3,1301,518\nD3,1304,542\nD3,1306,520\nD3,1309,543\nD3,1311,521\nD3,1314,544\nD3,1316,522\nD3,1319,545\nD3,1321,521\nD3,1324,546\nD3,1326,523\nD3,1329,547\nD3,1331,524\nD3,1334,548\nD3,1336,525\nD3,1339,548\nD3,1341,524\nD3,1344,547\nD3,1346,526\nD3,1349,548\nD3,1351,525\nD3,1354,547\nD3,1356,524\nD3,1359,546\nD3,1361,526\nD3,1364,547\nD3,1366,525\nD3,1369,546\nD3,1371,524\nD3,1374,545\nD3,1376,526\nD3,1379,546\nD3,1381,525\nD3,1384,545\nD3,1386,527\nD3,1389,546\nD3,1391,526\nD3,1394,545\nD3,1396,527\nD3,1399,546\nD3,1401,526\nD3,1404,545\nD3,1406,528\nD3,1409,546\nD3,1411,527\nD3,1414,545\nD3,1416,528\nD3,1419,546\nD3,1421,527\nD3,1424,545\nD3,1426,529\nD3,1429,546\nD3,1431,528\nD3,1434,545\nD3,1436,530\nD3,1439,546\nD3,1441,529\nD3,1444,545\nD3,1446,530\nD3,1449,546\nD3,1451,531\nD3,1454,545\nD3,1456,530\nD3,1459,546\nD3,1461,532\nD3,1464,545\nD3,1466,531\nD3,1469,546\nD3,1471,532\nD3,1474,545\nD3,1476,531\nD3,1479,546\nD3,1481,533\nD3,1484,545\nD3,1486,532\nD3,1489,546\nD3,1491,533\nD3,1494,545\nD3,1496,532\nD3,1499,546\nD3,1501,534\nD3,1504,545\nD3,1506,533\nD3,1509,546\nD3,1511,534\nD3,1514,545\nD3,1516,533\nD3,1519,546\nD3,1521,535\nD3,1524,545\nD3,1526,534\nD3,1529,546\nD3,1531,535\nD3,1534,545\nD3,1536,534\nD3,1539,546\nD3,1541,536\nD3,1544,545\nD3,1546,535\nD3,1549,546\nD3,1551,536\nD3,1554,545\nD3,1556,535\nD3,1559,544\nD3,1561,536\nD3,1564,545\nD3,1566,535\nD3,1569,544\nD3,1571,536\nD3,1574,545\nD3,1576,535\nD3,1579,544\nD3,1581,536\nD3,1584,545\nD3,1586,534\nD3,1589,544\nD3,1591,527\nD3,1594,543\nD3,1596,535\nD3,1599,544\nD3,1601,534\nD3,1604,543\nD3,1606,535\nD3,1609,542\nD3,1611,533\nD3,1614,543\nD3,1616,534\nD3,1619,542\nD3,1621,533\nD3,1624,541\nD3,1626,534\nD3,1629,542\nD3,1631,533\nD3,1634,541\nD3,1636,534\nD3,1638,540\nD4,827,597\nD4,831,596\nD4,835,598\nD4,839,596\nD4,843,597\nD4,847,598\nD4,851,597\nD4,855,598\nD4,859,597\nD4,862,598\nD4,864,572\nD4,866,567\nD4,869,569\nD4,873,570\nD4,876,580\nD4,878,571\nD4,881,582\nD4,883,572\nD4,886,584\nD4,888,573\nD4,891,585\nD4,893,574\nD4,896,587\nD4,898,575\nD4,901,588\nD4,903,575\nD4,906,590\nD4,908,577\nD4,911,591\nD4,913,578\nD4,916,592\nD4,918,574\nD4,921,588\nD4,923,570\nD4,926,584\nD4,928,566\nD4,931,580\nD4,933,564\nD4,936,579\nD4,938,562\nD4,941,578\nD4,943,560\nD4,946,577\nD4,948,558\nD4,951,576\nD4,953,557\nD4,956,575\nD4,958,555\nD4,961,575\nD4,963,556\nD4,966,574\nD4,968,555\nD4,971,575\nD4,973,554\nD4,976,574\nD4,978,556\nD4,981,575\nD4,983,555\nD4,986,574\nD4,988,554\nD4,991,575\nD4,993,556\nD4,996,575\nD4,998,555\nD4,1001,574\nD4,1003,554\nD4,1006,573\nD4,1008,555\nD4,1011,574\nD4,1013,553\nD4,1016,573\nD4,1018,554\nD4,1021,572\nD4,1023,553\nD4,1026,573\nD4,1028,554\nD4,1031,572\nD4,1033,552\nD4,1036,571\nD4,1038,553\nD4,1041,572\nD4,1043,552\nD4,1046,571\nD4,1048,554\nD4,1051,572\nD4,1053,553\nD4,1056,571\nD4,1058,552\nD4,1061,570\nD4,1063,553\nD4,1066,571\nD4,1068,552\nD4,1071,570\nD4,1073,554\nD4,1076,571\nD4,1078,553\nD4,1081,570\nD4,1083,552\nD4,1086,571\nD4,1088,554\nD4,1091,570\nD4,1093,553\nD4,1096,569\nD4,1098,552\nD4,1101,570\nD4,1103,554\nD4,1106,571\nD4,1108,553\nD4,1111,570\nD4,1113,555\nD4,1116,571\nD4,1118,554\nD4,1121,572\nD4,1123,556\nD4,1126,571\nD4,1128,555\nD4,1131,572\nD4,1133,554\nD4,1136,571\nD4,1138,556\nD4,1141,572\nD4,1143,555\nD4,1146,571\nD4,1148,556\nD4,1151,572\nD4,1153,554\nD4,1156,571\nD4,1158,555\nD4,1161,570\nD4,1163,553\nD4,1166,571\nD4,1168,554\nD4,1171,569\nD4,1173,552\nD4,1176,570\nD4,1178,554\nD4,1181,569\nD4,1183,553\nD4,1186,568\nD4,1188,552\nD4,1191,569\nD4,1193,554\nD4,1196,568\nD4,1198,553\nD4,1201,568\nD4,1203,555\nD4,1206,569\nD4,1208,554\nD4,1211,570\nD4,1213,556\nD4,1216,571\nD4,1218,557\nD4,1221,572\nD4,1223,558\nD4,1226,573\nD4,1228,559\nD4,1231,574\nD4,1233,560\nD4,1236,575\nD4,1238,561\nD4,1241,576\nD4,1243,562\nD4,1246,578\nD4,1248,565\nD4,1251,580\nD4,1253,564\nD4,1256,579\nD4,1258,562\nD4,1261,577\nD4,1263,561\nD4,1266,576\nD4,1268,560\nD4,1271,575\nD4,1273,558\nD4,1276,573\nD4,1278,556\nD4,1281,571\nD4,1283,554\nD4,1286,569\nD4,1288,552\nD4,1291,567\nD4,1293,550\nD4,1296,566\nD4,1298,548\nD4,1301,565\nD4,1303,549\nD4,1306,566\nD4,1308,548\nD4,1311,565\nD4,1313,550\nD4,1316,567\nD4,1318,549\nD4,1321,566\nD4,1323,551\nD4,1326,568\nD4,1328,550\nD4,1331,567\nD4,1333,552\nD4,1336,569\nD4,1338,551\nD4,1341,570\nD4,1343,553\nD4,1346,569\nD4,1348,552\nD4,1351,570\nD4,1353,554\nD4,1356,569\nD4,1358,553\nD4,1361,570\nD4,1363,555\nD4,1366,569\nD4,1368,554\nD4,1371,570\nD4,1373,553\nD4,1376,569\nD4,1378,555\nD4,1381,570\nD4,1383,554\nD4,1386,571\nD4,1388,556\nD4,1391,570\nD4,1393,555\nD4,1396,571\nD4,1398,556\nD4,1401,570\nD4,1403,557\nD4,1406,572\nD4,1408,556\nD4,1411,571\nD4,1413,558\nD4,1416,573\nD4,1418,557\nD4,1421,574\nD4,1423,559\nD4,1426,574\nD4,1428,560\nD4,1431,575\nD4,1433,562\nD4,1436,576\nD4,1438,563\nD4,1441,576\nD4,1443,564\nD4,1446,577\nD4,1448,566\nD4,1451,578\nD4,1453,567\nD4,1456,578\nD4,1458,568\nD4,1461,579\nD4,1463,569\nD4,1466,580\nD4,1468,570\nD4,1471,580\nD4,1473,571\nD4,1476,581\nD4,1478,572\nD4,1481,582\nD4,1483,573\nD4,1486,583\nD4,1488,574\nD4,1491,584\nD4,1493,575\nD4,1496,585\nD4,1498,576\nD4,1501,586\nD4,1503,577\nD4,1506,587\nD4,1508,578\nD4,1511,587\nD4,1513,580\nD4,1516,588\nD4,1518,581\nD4,1521,589\nD4,1523,582\nD4,1526,590\nD4,1528,583\nD4,1531,591\nD4,1533,584\nD4,1536,592\nD4,1538,585\nD4,1541,592\nD4,1543,586\nD4,1546,593\nD4,1548,586\nD4,1551,594\nD4,1553,587\nD4,1556,595\nD4,1558,588\nD4,1561,595\nD4,1563,589\nD4,1566,596\nD4,1568,589\nD4,1571,596\nD4,1573,590\nD4,1576,597\nD4,1578,589\nD4,1581,596\nD4,1583,590\nD4,1586,597\nD4,1588,589\nD4,1591,596\nD4,1593,590\nD4,1596,597\nD4,1598,589\nD4,1601,596\nD4,1603,590\nD4,1606,597\nD4,1608,589\nD4,1611,596\nD4,1613,590\nD4,1616,597\nD4,1618,589\nD4,1621,596\nD4,1623,590\nD4,1626,597\nD4,1628,589\nD4,1631,596\nD4,1633,586\nD4,1636,596","format":{"type":"csv","parse":{"x":"number","y":"number"}}},
"mark":{"type":"line","stroke":"#2a2a2a","strokeWidth":1,"strokeJoin":"round"},
"encoding":{"detail":{"field":"s","type":"nominal"}}},
{"data":{"values":[{"x":81,"x2":126,"y":307,"y2":320},{"x":155,"x2":239,"y":306,"y2":332},{"x":314,"x2":401,"y":306,"y2":332},{"x":458,"x2":514,"y":307,"y2":320},{"x":126,"x2":208,"y":643,"y2":665},{"x":311,"x2":398,"y":643,"y2":665}]},
"mark":{"type":"rect","fill":"#ffffff","stroke":"#555555","strokeWidth":1},
"encoding":{"x2":{"field":"x2"},"y2":{"field":"y2"}}},
{"data":{"values":[{"x":112,"y":296},{"x":197,"y":296},{"x":358,"y":296},{"x":485,"y":296},{"x":167,"y":632},{"x":350,"y":632}]},
"mark":{"type":"point","shape":"M-0.45,-1L0.45,-1L0.45,0.1L0.95,0.1L0,1L-0.95,0.1L-0.45,0.1Z","size":400,"fill":"#ffffff","stroke":"#333333","strokeWidth":1.1,"opacity":1}},
{"data":{"values":[{"x":12,"y":37,"t":"A"},{"x":12,"y":357,"t":"B"},{"x":791,"y":37,"t":"C"},{"x":791,"y":357,"t":"D"}]},
"mark":{"type":"text","align":"left","baseline":"alphabetic","fontSize":26,"fontWeight":"bold","color":"#111111","font":"Liberation Sans"},
"encoding":{"text":{"field":"t"}}},
{"data":{"values":[{"x":709,"y":29,"t":"WT"},{"x":1637,"y":29,"t":"KO"}]},
"mark":{"type":"text","align":"center","baseline":"middle","fontSize":16,"fontWeight":"bold","color":"#ffffff","font":"Liberation Sans"},
"encoding":{"text":{"field":"t"}}},
{"data":{"values":[{"x":55,"y":35.5,"t":"6"},{"x":239,"y":35.5,"t":"12"},{"x":488,"y":35.5,"t":"6"},{"x":55,"y":371,"t":"6"},{"x":142,"y":371,"t":"12"},{"x":305,"y":371,"t":"12+FOR"},{"x":556,"y":371,"t":"6"},{"x":865,"y":35.5,"t":"6"},{"x":1019,"y":35.5,"t":"12"},{"x":1260,"y":35.5,"t":"6"},{"x":830,"y":372,"t":"6"},{"x":924,"y":372,"t":"12"},{"x":1101,"y":372,"t":"12+FOR"},{"x":1397,"y":372,"t":"6"}]},
"mark":{"type":"text","align":"center","baseline":"middle","fontSize":12.5,"color":"#333333","font":"Liberation Sans"},
"encoding":{"text":{"field":"t"}}},
{"data":{"values":[{"x":92,"y":272,"t":"Delay_A"},{"x":131,"y":272,"t":"Delay_A1"},{"x":461,"y":272,"t":"Delay_D"},{"x":528,"y":272,"t":"Delay_D1"},{"x":199,"y":276,"t":"12 GLC"},{"x":360,"y":276,"t":"12 GLC+10 min"},{"x":528,"y":62,"t":"100 s"},{"x":688,"y":399,"t":"100 s"},{"x":1351,"y":68,"t":"100 s"},{"x":1583,"y":394,"t":"100 s"},{"x":103.5,"y":314,"t":"FIGURE 2"},{"x":197,"y":313,"t":"FIGURE 3A, C, E"},{"x":197,"y":325,"t":"FIGURE 4F, H, J"},{"x":357.5,"y":313,"t":"FIGURE 3B, D, F"},{"x":357.5,"y":325,"t":"FIGURE 4E, G, I, K"},{"x":486,"y":314,"t":"FIGURE 5"},{"x":166,"y":611,"t":"12 GLC"},{"x":349,"y":611,"t":"12 GLC+FOR"},{"x":167,"y":649,"t":"FIGURE 3A, C, E"},{"x":167,"y":660,"t":"FIGURE 4F, H, J"},{"x":354.5,"y":649,"t":"FIGURE 3B, D, F"},{"x":354.5,"y":660,"t":"FIGURE 4E, G, I, K"}]},
"mark":{"type":"text","align":"center","baseline":"middle","fontSize":8.5,"color":"#333333","font":"Liberation Sans"},
"encoding":{"text":{"field":"t"}}}
]
}
